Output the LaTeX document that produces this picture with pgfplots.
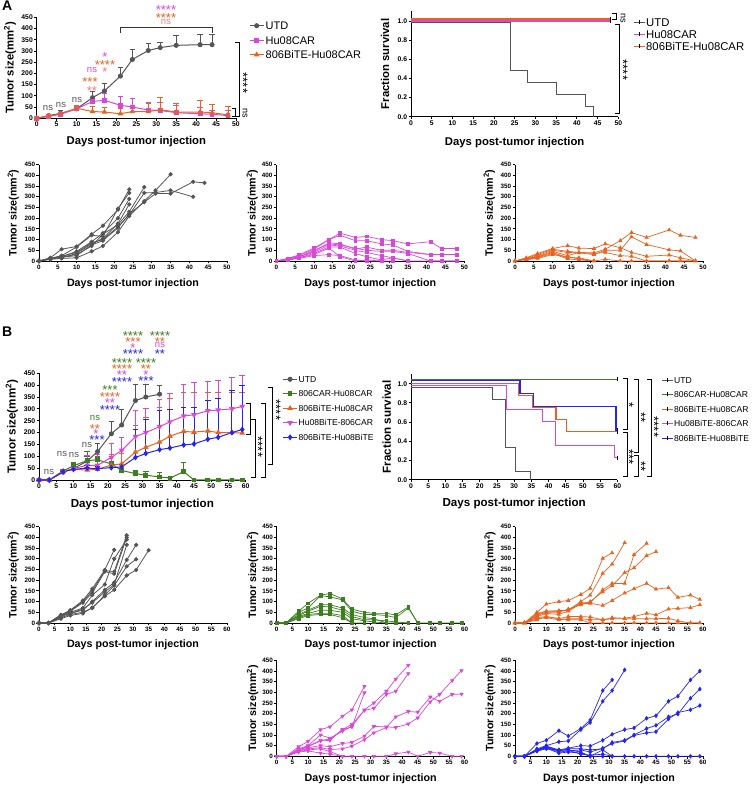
\documentclass[border=0pt]{standalone}
\usepackage{pgfplots}
\pgfplotsset{compat=1.18}
\usepackage{fontspec}
\setmainfont{Liberation Sans}
\definecolor{cgrey}{HTML}{555555}
\definecolor{cmag}{HTML}{D947D9}
\definecolor{corg}{HTML}{E8621E}
\definecolor{cgrn}{HTML}{3D7E1F}
\definecolor{cblu}{HTML}{2424F2}
\definecolor{csal}{HTML}{F27C7C}
\newcommand{\fs}[1]{\fontsize{#1}{#1}\selectfont}
\pgfplotsset{
 prism/.style={scale only axis, axis x line*=bottom, axis y line*=left,
   axis line style={line width=0.9pt,-,black}, every tick/.style={line width=0.8pt,black},
   tick align=outside, major tick length=2.5pt, enlargelimits=false, clip=false,
   /pgf/number format/assume math mode=true,
   tick label style={font=\bfseries\fs{6.8}, inner sep=1.2pt},
   label style={font=\bfseries\fs{11.3}},
   xlabel={Days post-tumor injection}},
 tum/.style={ymin=0,ymax=450,ytick={0,50,...,450}, ylabel={Tumor size(mm\textsuperscript{2})}},
 indiv/.style={prism,tum,width=188pt,height=96.3pt, label style={font=\bfseries\fs{10.7}}, tick label style={font=\bfseries\fs{6.3}}},
 surv/.style={prism, ymin=0, ymax=1.1, ytick={0,0.2,0.4,0.6,0.8,1}, ylabel={Fraction survival},
   yticklabel style={/pgf/number format/.cd, fixed, fixed zerofill, precision=1}},
 lgA/.style={legend cell align=left,
   legend image code/.code={\draw[mark repeat=2,mark phase=2,##1] plot coordinates {(0pt,0pt) (7pt,0pt) (14pt,0pt)};}},
 lgS/.style={legend cell align=left,
   legend image code/.code={\draw[##1, line width=0.9pt] (0pt,0pt) -- (11pt,0pt); \draw[black,line width=0.6pt] (5.5pt,-2pt) -- (5.5pt,2pt);}},
 igr/.style={cgrey, line width=0.8pt, mark=*, mark size=1.7pt},
 ima/.style={cmag, line width=0.7pt, mark=square*, mark size=1.4pt},
 ior/.style={corg, line width=0.7pt, mark=triangle*, mark size=1.8pt},
 ign/.style={cgrn, line width=0.7pt, mark=square*, mark size=1.4pt},
 idt/.style={cmag, line width=0.7pt, mark=triangle*, mark size=1.8pt, mark options={rotate=180}},
 ibl/.style={cblu, line width=0.7pt, mark=diamond*, mark size=1.8pt},
 mgr/.style={cgrey, line width=1pt, mark=*, mark size=2pt},
 mma/.style={cmag, line width=1pt, mark=square*, mark size=1.9pt},
 mor/.style={corg, line width=1pt, mark=triangle*, mark size=2.3pt},
 mgn/.style={cgrn, line width=1pt, mark=square*, mark size=1.9pt},
 mdt/.style={cmag, line width=1pt, mark=triangle*, mark size=2.3pt, mark options={rotate=180}},
 mbl/.style={cblu, line width=1pt, mark=diamond*, mark size=2.2pt},
 ebar/.style={/pgfplots/error bars/y dir=plus, /pgfplots/error bars/y explicit,
   /pgfplots/error bars/error bar style={line width=0.9pt},
   /pgfplots/error bars/error mark options={rotate=90, line width=0.9pt, mark size=2.8pt}},
}
\newcommand{\st}[4]{\node[font=\fs{13}, text=#1, anchor=base, inner sep=0pt] at (#2,#3+7.5) {#4};}
\newcommand{\rst}[4]{\node[font=\fs{13}, text=#1, anchor=base, inner sep=0pt, rotate=-90] at (#2-7.5,#3) {#4};}
\newcommand{\nsl}[4]{\node[font=\fs{#4}, text=#1, inner sep=0pt] at (#2,#3) {ns};}
\newcommand{\rns}[2]{\node[font=\fs{9}, text=black, inner sep=0pt, rotate=-90] at (#1,#2) {ns};}
\newcommand{\brk}[3]{\draw[line width=1pt] (#1-4,#2) -- (#1,#2) -- (#1,#3) -- (#1-4,#3);}
\begin{document}
\begin{tikzpicture}
\useasboundingbox (0pt,0pt) rectangle (754pt,785pt);

% ===== A top-left: mean tumor size
\begin{axis}[prism, tum, lgA, at={(36.7pt,666.7pt)}, anchor=south west, width=199.3pt, height=101pt,
  xmin=0, xmax=50, xtick={0,5,...,50},
  xlabel style={at={(axis description cs:0.5,-0.235)}, anchor=center},
  ylabel style={at={(axis description cs:-0.134,0.5)}, anchor=center},
  legend style={draw=none, fill=none, at={(1.05,0.993)}, anchor=north west, font=\fs{11},
    row sep=3.5pt, nodes={inner sep=1.5pt, text height=8pt, text depth=0pt}}]
\addplot[mgr, ebar] table[x=x, y=y, y error=e] {
x y e
0 0 0
3 12 6
6 22 13
10 42 8
14 92 26
17 122 33
21 188 40
24 262 45
28 302 30
31 315 25
35 325 42
41 328 47
44 328 45
};
\addplot[mma, ebar] table[x=x, y=y, y error=e] {
x y e
0 0 0
3 8 3
6 18 5
10 42 13
14 75 20
17 80 30
21 58 39
24 50 40
28 37 35
31 35 35
35 25 30
41 20 30
44 18 17
48 12 23
};
\addplot[mor, ebar] table[x=x, y=y, y error=e] {
x y e
0 0 0
3 10 3
6 20 5
10 45 10
14 30 22
17 28 20
21 20 22
24 30 15
28 30 35
31 38 55
35 28 40
41 28 52
44 25 38
48 15 38
};
\legend{UTD, Hu08CAR, 806BiTE-Hu08CAR}
\end{axis}

% ===== A top-right: survival
\begin{axis}[prism, surv, lgS, at={(411pt,668.3pt)}, anchor=south west, width=207.3pt, height=105.3pt,
  xmin=0, xmax=50, xtick={0,5,...,50},
  xlabel style={at={(axis description cs:0.5,-0.247)}, anchor=center},
  ylabel style={at={(axis description cs:-0.125,0.5)}, anchor=center},
  legend style={draw=none, fill=none, at={(1.056,0.966)}, anchor=north west, font=\fs{11.3},
    row sep=1.5pt, nodes={inner sep=1.2pt, text height=8pt, text depth=0pt}}]
\addplot[cgrey, line width=1pt, const plot] coordinates {(0,0.98)(24,0.48)(28,0.355)(35,0.23)(42,0.105)(44,0)};
\addplot[cmag, line width=1.3pt, const plot] coordinates {(0,1.0)(48,1.0)};
\addplot[corg, line width=1.3pt, const plot] coordinates {(0,1.02)(48,1.02)};
\addplot[forget plot, only marks, black, mark=|, mark size=2pt, mark options={line width=0.6pt}] coordinates {(48,1.0)(48,1.02)};
\legend{UTD, Hu08CAR, 806BiTE-Hu08CAR}
\end{axis}

% ===== A bottom 1: UTD individual
\begin{axis}[indiv, at={(39pt,524pt)}, anchor=south west, xmin=0, xmax=50, xtick={0,5,...,50},
  xlabel style={at={(axis description cs:0.5,-0.232)}, anchor=center},
  ylabel style={at={(axis description cs:-0.137,0.5)}, anchor=center}]
\addplot[igr] coordinates {(0,0)(3,15)(6,55)(10,68)(14,125)(17,165)(21,240)(24,335)};
\addplot[igr] coordinates {(0,0)(3,12)(6,25)(10,65)(14,120)(17,115)(21,245)(24,318)};
\addplot[igr] coordinates {(0,0)(3,10)(6,20)(10,45)(14,90)(17,130)(21,200)(24,290)};
\addplot[igr] coordinates {(0,0)(3,10)(6,15)(10,35)(14,80)(17,105)(21,175)(24,265)};
\addplot[igr] coordinates {(0,0)(3,8)(6,20)(10,30)(14,70)(17,125)(21,170)(24,230)(28,345)};
\addplot[igr] coordinates {(0,0)(3,8)(6,12)(10,15)(14,45)(17,70)(21,135)(24,210)(28,280)(31,330)(35,405)};
\addplot[igr] coordinates {(0,0)(3,10)(6,18)(10,25)(14,75)(17,95)(21,155)(24,220)(28,275)(31,315)(35,315)(41,370)(44,365)};
\addplot[igr] coordinates {(0,0)(3,12)(6,22)(10,40)(14,85)(17,100)(21,160)(24,215)(28,318)(31,320)(35,330)(41,300)};
\end{axis}

% ===== A bottom 2: Hu08CAR individual
\begin{axis}[indiv, at={(276.3pt,524pt)}, anchor=south west, xmin=0, xmax=50, xtick={0,5,...,50},
  xlabel style={at={(axis description cs:0.5,-0.232)}, anchor=center},
  ylabel style={at={(axis description cs:-0.128,0.5)}, anchor=center}]
\addplot[ima] coordinates {(0,0)(3,12)(6,28)(10,60)(14,100)(17,130)(21,110)(24,115)(28,100)(31,95)(35,80)(41,90)(44,58)(48,58)};
\addplot[ima] coordinates {(0,0)(3,10)(6,25)(10,55)(14,100)(17,120)(21,95)(24,95)(28,80)(31,75)(35,45)(41,30)(44,30)(48,30)};
\addplot[ima] coordinates {(0,0)(3,10)(6,20)(10,45)(14,85)(17,80)(21,55)(24,65)(28,50)(31,50)(35,40)(41,30)(44,30)(48,30)};
\addplot[ima] coordinates {(0,0)(3,8)(6,20)(10,40)(14,75)(17,70)(21,50)(24,40)(28,25)(31,15)(35,0)(41,0)(44,0)(48,0)};
\addplot[ima] coordinates {(0,0)(3,5)(6,15)(10,35)(14,65)(17,65)(21,35)(24,20)(28,5)(31,15)(35,0)};
\addplot[ima] coordinates {(0,0)(3,5)(6,12)(10,25)(14,30)(17,25)(21,5)(24,0)(28,0)(31,0)};
\addplot[ima] coordinates {(0,0)(3,8)(6,18)(10,50)(14,80)(17,75)(21,60)(24,50)(28,45)(31,45)(35,35)(41,0)(44,0)(48,0)};
\addplot[ima] coordinates {(0,0)(3,6)(6,15)(10,30)(14,60)(17,20)(21,0)(24,5)(28,0)};
\end{axis}

% ===== A bottom 3: 806BiTE-Hu08CAR individual
\begin{axis}[indiv, at={(515pt,524pt)}, anchor=south west, xmin=0, xmax=50, xtick={0,5,...,50},
  xlabel style={at={(axis description cs:0.5,-0.232)}, anchor=center},
  ylabel style={at={(axis description cs:-0.136,0.5)}, anchor=center}]
\addplot[ior] coordinates {(0,0)(3,15)(6,35)(10,58)(14,72)(17,60)(21,58)(24,80)(28,62)(31,40)(35,22)(41,28)(44,15)(48,0)};
\addplot[ior] coordinates {(0,0)(3,12)(6,30)(10,55)(14,45)(17,40)(21,38)(24,55)(28,95)(31,133)(35,110)(41,145)(44,120)(48,110)};
\addplot[ior] coordinates {(0,0)(3,10)(6,25)(10,50)(14,40)(17,38)(21,30)(24,50)(28,50)(31,113)(35,77)(41,52)(44,47)(48,0)};
\addplot[ior] coordinates {(0,0)(3,10)(6,20)(10,45)(14,25)(17,40)(21,35)(24,40)(28,25)(31,22)(35,0)(41,0)(44,0)(48,0)};
\addplot[ior] coordinates {(0,0)(3,8)(6,18)(10,40)(14,15)(17,15)(21,0)(24,8)(28,0)(31,0)(35,0)(41,0)(44,0)(48,0)};
\addplot[ior] coordinates {(0,0)(3,8)(6,15)(10,35)(14,10)(17,5)(21,0)};
\addplot[ior] coordinates {(0,0)(3,6)(6,12)(10,30)(14,20)(17,10)(21,0)};
\end{axis}

% ===== B top-left: mean tumor size
\begin{axis}[prism, tum, lgA, at={(39pt,305pt)}, anchor=south west, width=206.7pt, height=106.7pt,
  xmin=0, xmax=60, xtick={0,5,...,60}, label style={font=\bfseries\fs{11.6}},
  xlabel style={at={(axis description cs:0.5,-0.225)}, anchor=center},
  ylabel style={at={(axis description cs:-0.131,0.5)}, anchor=center},
  legend style={draw=none, fill=none, at={(1.163,1.003)}, anchor=north west, font=\fs{8.6},
    row sep=6.3pt, nodes={inner sep=1pt, text height=6.2pt, text depth=0pt}}]
\addplot[mgr, ebar] table[x=x, y=y, y error=e] {
x y e
0 0 0
3 0 0
7 33 5
10 48 8
14 80 20
17 120 35
21 195 53
24 232 64
28 335 67
31 350 54
35 362 36
};
\addplot[mgn, ebar] table[x=x, y=y, y error=e] {
x y e
0 0 0
3 0 0
7 38 5
10 60 13
14 82 40
17 85 15
21 68 7
24 40 5
28 27 15
31 20 18
35 13 17
38 8 4
42 35 40
45 0 0
49 0 0
52 0 0
56 0 0
59 0 0
};
\addplot[mor, ebar] table[x=x, y=y, y error=e] {
x y e
0 0 0
3 0 0
7 38 5
10 45 10
14 42 10
17 45 10
21 63 45
24 68 42
28 118 112
31 138 124
35 160 148
38 185 157
42 205 165
45 202 168
49 207 163
52 200 170
56 200 170
59 198 172
};
\addplot[mdt, ebar] table[x=x, y=y, y error=e] {
x y e
0 0 0
3 0 0
7 35 5
10 48 10
14 62 43
17 62 46
21 95 60
24 125 55
28 183 109
31 200 102
35 225 115
38 245 120
42 270 135
45 275 135
49 292 123
52 295 123
56 300 132
59 310 133
};
\addplot[mbl, ebar] table[x=x, y=y, y error=e] {
x y e
0 0 0
3 0 0
7 35 5
10 45 8
14 50 10
17 48 8
21 52 10
24 55 10
28 95 119
31 112 143
35 128 167
38 135 163
42 148 160
45 152 156
49 172 165
52 180 165
56 200 177
59 213 187
};
\legend{UTD, 806CAR-Hu08CAR, 806BiTE-Hu08CAR, Hu08BiTE-806CAR, 806BiTE-Hu08BiTE}
\end{axis}

% ===== B top-right: survival
\begin{axis}[prism, surv, lgS, at={(411pt,305.3pt)}, anchor=south west, width=206.3pt, height=105.6pt,
  xmin=0, xmax=60, xtick={0,5,...,60}, label style={font=\bfseries\fs{11.6}},
  xlabel style={at={(axis description cs:0.5,-0.224)}, anchor=center},
  ylabel style={at={(axis description cs:-0.118,0.5)}, anchor=center},
  legend style={draw=none, fill=none, at={(1.197,1.004)}, anchor=north west, font=\fs{8.6},
    row sep=6.3pt, nodes={inner sep=1pt, text height=6.2pt, text depth=0pt}}]
\addplot[cgrey, line width=1pt, const plot] coordinates {(0,0.96)(23.7,0.835)(27.6,0.335)(30.5,0.088)(34.8,0)};
\addplot[cgrn, line width=1pt, const plot] coordinates {(0,1.045)(60,1.045)};
\addplot[corg, line width=1.2pt, const plot] coordinates {(0,1.0)(31.2,0.877)(35.3,0.752)(42.2,0.627)(45.3,0.5)(60,0.5)};
\addplot[cmag, line width=1pt, const plot] coordinates {(0,0.98)(27.8,0.73)(38.2,0.603)(42.1,0.353)(59.1,0.229)(60,0.229)};
\addplot[cblu, line width=1.2pt, const plot] coordinates {(0,1.03)(31.7,0.898)(35.6,0.766)(59.6,0.516)(60,0.516)};
\addplot[forget plot, only marks, black, mark=|, mark size=2pt, mark options={line width=0.6pt}] coordinates {(60,1.045)(60,0.5)(60,0.229)(60,0.516)};
\legend{UTD, 806CAR-Hu08CAR, 806BiTE-Hu08CAR, Hu08BiTE-806CAR, 806BiTE-Hu08BiTE}
\end{axis}

% ===== B middle 1: UTD individual
\begin{axis}[indiv, at={(39pt,162pt)}, anchor=south west, xmin=0, xmax=60, xtick={0,5,...,60},
  xlabel style={at={(axis description cs:0.5,-0.228)}, anchor=center},
  ylabel style={at={(axis description cs:-0.137,0.5)}, anchor=center}]
\addplot[igr] coordinates {(0,0)(3,0)(7,38)(10,60)(14,105)(17,160)(21,248)(24,342)};
\addplot[igr] coordinates {(0,0)(3,0)(7,35)(10,58)(14,100)(17,150)(21,245)(24,240)(28,410)};
\addplot[igr] coordinates {(0,0)(3,0)(7,30)(10,55)(14,95)(17,140)(21,240)(24,230)(28,400)};
\addplot[igr] coordinates {(0,0)(3,0)(7,35)(10,50)(14,70)(17,130)(21,180)(24,300)(28,390)};
\addplot[igr] coordinates {(0,0)(3,0)(7,30)(10,45)(14,60)(17,100)(21,155)(24,190)(28,295)(31,365)};
\addplot[igr] coordinates {(0,0)(3,0)(7,25)(10,40)(14,50)(17,70)(21,130)(24,175)(28,265)(31,298)};
\addplot[igr] coordinates {(0,0)(3,0)(7,20)(10,35)(14,45)(17,72)(21,125)(24,155)(28,222)(31,248)(35,340)};
\addplot[igr] coordinates {(0,0)(3,0)(7,38)(10,45)(14,65)(17,95)(21,145)(24,180)(28,365)};
\end{axis}

% ===== B middle 2: 806CAR-Hu08CAR individual
\begin{axis}[indiv, at={(276.7pt,162pt)}, anchor=south west, xmin=0, xmax=60, xtick={0,5,...,60},
  xlabel style={at={(axis description cs:0.5,-0.228)}, anchor=center},
  ylabel style={at={(axis description cs:-0.128,0.5)}, anchor=center}]
\addplot[ign] coordinates {(0,0)(3,0)(7,55)(10,92)(14,130)(17,138)(21,112)(24,65)(28,50)(31,45)(35,45)(38,38)(42,75)(45,0)(49,0)(52,0)(56,0)(59,0)};
\addplot[ign] coordinates {(0,0)(3,0)(7,50)(10,70)(14,128)(17,122)(21,108)(24,55)(28,40)(31,40)(35,35)(38,25)(42,70)(45,0)};
\addplot[ign] coordinates {(0,0)(3,0)(7,40)(10,60)(14,85)(17,85)(21,70)(24,40)(28,25)(31,20)(35,0)(38,0)(42,0)};
\addplot[ign] coordinates {(0,0)(3,0)(7,35)(10,55)(14,78)(17,75)(21,60)(24,30)(28,15)(31,15)(35,10)(38,5)(42,0)};
\addplot[ign] coordinates {(0,0)(3,0)(7,30)(10,45)(14,60)(17,60)(21,50)(24,20)(28,10)(31,5)(35,0)};
\addplot[ign] coordinates {(0,0)(3,0)(7,25)(10,40)(14,45)(17,45)(21,35)(24,0)(28,0)};
\addplot[ign] coordinates {(0,0)(3,0)(7,20)(10,35)(14,40)(17,40)(21,25)(24,0)};
\end{axis}

% ===== B middle 3: 806BiTE-Hu08CAR individual
\begin{axis}[indiv, at={(515pt,162pt)}, anchor=south west, xmin=0, xmax=60, xtick={0,5,...,60},
  xlabel style={at={(axis description cs:0.5,-0.228)}, anchor=center},
  ylabel style={at={(axis description cs:-0.133,0.5)}, anchor=center}]
\addplot[ior] coordinates {(0,0)(3,0)(7,50)(10,88)(14,100)(17,105)(21,133)(24,162)(28,302)(31,328)};
\addplot[ior] coordinates {(0,0)(3,0)(7,45)(10,55)(14,55)(17,60)(21,100)(24,130)(28,232)(31,275)(35,375)};
\addplot[ior] coordinates {(0,0)(3,0)(7,40)(10,55)(14,58)(17,60)(21,95)(24,95)(28,155)(31,185)(35,185)(38,320)(42,372)};
\addplot[ior] coordinates {(0,0)(3,0)(7,35)(10,50)(14,50)(17,65)(21,85)(24,100)(28,145)(31,175)(35,235)(38,258)(42,315)(45,333)};
\addplot[ior] coordinates {(0,0)(3,0)(7,30)(10,45)(14,40)(17,55)(21,90)(24,92)(28,82)(31,105)(35,140)(38,160)(42,185)(45,158)(49,165)(52,120)(56,130)(59,110)};
\addplot[ior] coordinates {(0,0)(3,0)(7,25)(10,30)(14,20)(17,30)(21,30)(24,28)(28,15)(31,25)(35,22)(38,30)(42,45)(45,38)(49,65)(52,68)(56,72)(59,85)};
\addplot[ior] coordinates {(0,0)(3,0)(7,20)(10,25)(14,15)(17,20)(21,20)(24,15)(28,15)(31,20)(35,20)(38,20)(42,20)(45,20)(49,22)(52,10)(56,0)(59,0)};
\addplot[ior] coordinates {(0,0)(3,0)(7,15)(10,30)(14,20)(17,15)(21,15)(24,0)(28,0)(31,0)(35,0)(38,0)(42,0)(45,0)(49,0)(52,0)(56,0)(59,0)};
\end{axis}

% ===== B bottom 1: Hu08BiTE-806CAR individual
\begin{axis}[indiv, at={(276.7pt,28.7pt)}, anchor=south west, height=96pt, xmin=0, xmax=60, xtick={0,5,...,60},
  xlabel style={at={(axis description cs:0.5,-0.229)}, anchor=center},
  ylabel style={at={(axis description cs:-0.128,0.5)}, anchor=center}]
\addplot[idt] coordinates {(0,0)(3,0)(7,45)(10,70)(14,125)(17,138)(21,188)(24,218)(28,328)};
\addplot[idt] coordinates {(0,0)(3,0)(7,35)(10,50)(14,100)(17,85)(21,118)(24,140)(28,218)(31,250)(35,305)(38,362)(42,427)};
\addplot[idt] coordinates {(0,0)(3,0)(7,30)(10,48)(14,75)(17,80)(21,125)(24,150)(28,215)(31,225)(35,290)(38,305)(42,388)};
\addplot[idt] coordinates {(0,0)(3,0)(7,28)(10,45)(14,72)(17,75)(21,125)(24,138)(28,298)};
\addplot[idt] coordinates {(0,0)(3,0)(7,25)(10,40)(14,50)(17,45)(21,60)(24,65)(28,95)(31,140)(35,138)(38,135)(42,152)(45,180)(49,255)(52,290)(56,355)(59,402)};
\addplot[idt] coordinates {(0,0)(3,0)(7,25)(10,35)(14,40)(17,32)(21,35)(24,48)(28,78)(31,110)(35,135)(38,185)(42,210)(45,207)(49,278)(52,258)(56,290)(59,292)};
\addplot[idt] coordinates {(0,0)(3,0)(7,20)(10,25)(14,15)(17,10)(21,0)(24,0)(28,0)(31,0)(35,0)(38,12)(42,20)(45,0)(49,18)(52,15)(56,0)(59,0)};
\addplot[idt] coordinates {(0,0)(3,0)(7,22)(10,30)(14,35)(17,22)(21,0)};
\end{axis}

% ===== B bottom 2: 806BiTE-Hu08BiTE individual
\begin{axis}[indiv, at={(515pt,28.7pt)}, anchor=south west, height=96pt, xmin=0, xmax=60, xtick={0,5,...,60},
  xlabel style={at={(axis description cs:0.5,-0.229)}, anchor=center},
  ylabel style={at={(axis description cs:-0.133,0.5)}, anchor=center}]
\addplot[ibl] coordinates {(0,0)(3,0)(7,60)(10,75)(14,120)(17,95)(21,130)(24,170)(28,308)(31,358)};
\addplot[ibl] coordinates {(0,0)(3,0)(7,35)(10,50)(14,68)(17,72)(21,125)(24,158)(28,258)(31,308)(35,405)};
\addplot[ibl] coordinates {(0,0)(3,0)(7,30)(10,48)(14,30)(17,38)(21,50)(24,48)(28,75)(31,103)(35,125)(38,133)(42,178)(45,190)(49,258)(52,282)(56,358)(59,400)};
\addplot[ibl] coordinates {(0,0)(3,0)(7,30)(10,42)(14,25)(17,35)(21,35)(24,30)(28,35)(31,65)(35,75)(38,100)(42,130)(45,145)(49,185)(52,198)(56,272)(59,315)};
\addplot[ibl] coordinates {(0,0)(3,0)(7,28)(10,40)(14,20)(17,25)(21,30)(24,20)(28,38)(31,60)(35,72)(38,98)(42,110)(45,115)(49,175)(52,205)(56,218)(59,238)};
\addplot[ibl] coordinates {(0,0)(3,0)(7,25)(10,38)(14,15)(17,20)(21,15)(24,0)(28,30)(31,0)(35,0)(38,0)(42,0)(45,0)(49,0)(52,0)(56,0)(59,0)};
\addplot[ibl] coordinates {(0,0)(3,0)(7,25)(10,35)(14,30)(17,28)(21,10)(24,5)(28,10)(31,0)};
\addplot[ibl] coordinates {(0,0)(3,0)(7,30)(10,45)(14,28)(17,30)(21,20)(24,0)(28,0)};
\end{axis}

% ===== annotations in pixel coordinates (y downward)
\begin{scope}[shift={(0pt,785pt)}, x=1pt, y=-1pt]
\node[font=\bfseries\fs{14}, anchor=north west, inner sep=0pt] at (2,1) {A};
\node[font=\bfseries\fs{14}, anchor=north west, inner sep=0pt] at (2,327) {B};
% A top-left
\nsl{cgrey}{48}{108}{9.5}
\nsl{cgrey}{61}{105}{9.5}
\nsl{cgrey}{77}{100}{9.5}
\st{csal}{92}{88}{**}
\st{corg}{90}{79}{***}
\nsl{cmag}{92}{70}{9.5}
\st{csal}{105}{69}{*}
\st{corg}{105}{62}{****}
\st{cmag}{105}{54}{*}
\draw[line width=1pt, black!80] (120.4,33) -- (120.4,28) -- (212.1,28) -- (212.1,33);
\st{cmag}{166}{7}{****}
\st{corg}{166}{15}{****}
\nsl{csal}{166}{22}{9.5}
\brk{239}{43}{117}
\rst{black}{246}{83}{****}
\brk{235.5}{109}{117}
\rns{245}{113}
% A top-right
\brk{616}{14}{20}
\rns{623}{18}
\brk{619}{25}{114}
\rst{black}{626}{70}{****}
% B top-left
\nsl{cgrey}{49}{472}{9.5}
\nsl{cgrey}{62}{454}{9.5}
\nsl{cgrey}{74}{455}{9.5}
\nsl{cgrey}{87}{445}{9.5}
\nsl{cgrn}{95}{418}{9.5}
\st{corg}{95}{426}{**}
\st{cmag}{96}{431}{*}
\st{cblu}{97}{437}{***}
\st{cgrn}{110}{387}{***}
\st{corg}{110}{394}{****}
\st{cmag}{110}{400}{**}
\st{cblu}{110}{407}{****}
\st{cgrn}{122}{360}{****}
\st{corg}{122}{366}{****}
\st{cmag}{122}{372}{**}
\st{cblu}{122}{379}{****}
\st{cgrn}{146}{360}{****}
\st{corg}{146}{366}{**}
\st{cmag}{146}{372}{*}
\st{cblu}{146}{378}{***}
\st{cgrn}{133}{333}{****}
\st{corg}{133}{339}{***}
\st{cmag}{133}{345}{*}
\st{cblu}{133}{351}{****}
\st{cgrn}{160}{333}{****}
\st{corg}{160}{339}{**}
\nsl{cmag}{160}{345}{9.5}
\st{cblu}{160}{351}{**}
\brk{272}{388}{465}
\rst{black}{279}{410}{****}
\brk{265}{404}{478}
\brk{255}{420}{478}
\rst{black}{261}{447}{****}
\brk{250}{404}{435}
% B top-right
\brk{627}{379}{430}
\rst{black}{632}{405}{*}
\brk{627}{433}{477}
\rst{black}{632}{457}{***}
\brk{638}{380}{453}
\rst{black}{644}{418}{**}
\brk{638}{456}{477}
\rst{black}{644}{467}{**}
\brk{651}{380}{477}
\rst{black}{657}{427}{****}
\end{scope}
\end{tikzpicture}
\end{document}
